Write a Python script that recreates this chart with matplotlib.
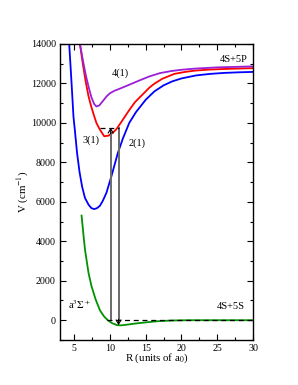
import numpy as np
import matplotlib
matplotlib.use('Agg')
import matplotlib.pyplot as plt
from matplotlib.ticker import MultipleLocator

plt.rcParams['font.family'] = ['Liberation Serif', 'DejaVu Serif']
plt.rcParams['mathtext.fontset'] = 'stix'

# potential curves (R in a0, V in cm^-1)
r_blue = [4.3, 4.6, 4.9, 5.1, 5.4, 5.75, 6.1, 6.5, 7.0, 7.4, 7.8, 8.2, 8.6, 9.0,
          9.5, 10.2, 11.1, 11.8, 12.7, 13.65, 15.0, 16.2, 17.5, 18.7, 20.0,
          22.0, 24.0, 26.0, 28.0, 30.0]
v_blue = [14000, 12200, 10300, 9600, 8470, 7500, 6780, 6200, 5855, 5680, 5630,
          5680, 5800, 6050, 6450, 7290, 8470, 9200, 10000, 10550, 11170, 11590,
          11900, 12100, 12250, 12400, 12480, 12530, 12560, 12580]

r_red = [5.8, 6.2, 6.6, 7.0, 7.4, 7.7, 8.1, 8.6, 9.2, 9.8, 10.4, 10.9, 11.6,
         12.3, 12.7, 13.5, 14.6, 15.5, 16.2, 17.3, 19.0, 20.5, 22.0, 24.0,
         26.0, 28.0, 30.0]
v_red = [14000, 13000, 12100, 11350, 10800, 10450, 10000, 9650, 9320, 9350,
         9500, 9680, 10050, 10430, 10650, 11050, 11450, 11780, 11980, 12230,
         12480, 12580, 12650, 12700, 12730, 12750, 12770]

r_purple = [5.8, 6.2, 6.6, 7.0, 7.4, 7.8, 8.1, 8.5, 9.0, 9.5, 10.0, 10.6, 11.5,
            12.7, 14.0, 15.5, 17.0, 18.5, 20.0, 22.0, 25.0, 30.0]
v_purple = [14000, 13200, 12450, 11840, 11300, 10950, 10830, 10880, 11100,
            11330, 11500, 11620, 11750, 11930, 12130, 12350, 12520, 12620,
            12690, 12750, 12810, 12860]

r_green = [6.03, 6.3, 6.5, 7.0, 7.4, 8.0, 8.6, 9.2, 9.7, 10.3, 11.0, 11.6,
           12.5, 13.5, 15.0, 16.7, 18.6, 21.0, 25.0, 30.0]
v_green = [5300, 4300, 3600, 2400, 1750, 1050, 500, 180, 0, -150, -250, -260,
           -220, -170, -110, -50, -15, 0, 0, 0]

# transitions
r_up, r_down = 10.1, 11.2
v_exc = 9750
v_dn_end = -250

fig = plt.figure(figsize=(2.98, 3.85), dpi=100)
ax = fig.add_axes([0.201, 0.117, 0.648, 0.769])

lw = 1.3
ax.plot(r_blue, v_blue, color='#0000ff', lw=lw)
ax.plot(r_red, v_red, color='#ff0000', lw=lw)
ax.plot(r_purple, v_purple, color='#9a1fd6', lw=lw)
ax.plot(r_green, v_green, color='#009200', lw=lw)

# dashed reference levels
ax.plot([9.6, 30], [0, 0], color='black', lw=0.9, ls=(0, (4, 3)), zorder=4)
ax.plot([8.6, 11.3], [v_exc, v_exc], color='black', lw=0.9, ls=(0, (4, 3)), zorder=4)

# vertical transitions
ax.plot([r_up, r_up], [0, v_exc - 250], color='#6a6a6a', lw=1.4, zorder=3)
ax.plot([r_down, r_down], [v_exc, v_dn_end + 250], color='#6a6a6a', lw=1.4, zorder=3)
ax.annotate('', xy=(r_up, v_exc), xytext=(r_up, v_exc - 300),
            arrowprops=dict(arrowstyle='->,head_width=0.18,head_length=0.3',
                            color='black', lw=0.8, shrinkA=0, shrinkB=0))
ax.annotate('', xy=(r_down, v_dn_end), xytext=(r_down, v_dn_end + 300),
            arrowprops=dict(arrowstyle='->,head_width=0.18,head_length=0.3',
                            color='black', lw=0.8, shrinkA=0, shrinkB=0))

fs = 7.5
ax.text(11.4, 12500, '4(1)', fontsize=fs, ha='center', va='center')
ax.text(7.3, 9100, '3(1)', fontsize=fs, ha='center', va='center')
ax.text(13.8, 8950, '2(1)', fontsize=fs, ha='center', va='center')
ax.text(29.3, 13190, '4S+5P', fontsize=fs, ha='right', va='center')
ax.text(28.8, 710, '4S+5S', fontsize=fs, ha='right', va='center')
ax.text(4.1, 800, r'a$^3\Sigma^+$', fontsize=fs, ha='left', va='center')

ax.set_xlim(3, 30)
ax.set_ylim(-1000, 14000)
ax.xaxis.set_major_locator(MultipleLocator(5))
ax.xaxis.set_minor_locator(MultipleLocator(2.5))
ax.yaxis.set_major_locator(MultipleLocator(2000))
ax.yaxis.set_minor_locator(MultipleLocator(1000))
ax.tick_params(which='both', direction='in', top=True, right=True,
               labelsize=7.2, width=0.8, pad=3)
ax.tick_params(which='major', length=4.5)
ax.tick_params(which='minor', length=2.3)
for s in ax.spines.values():
    s.set_linewidth(1.0)

ax.set_xlabel(r'R (units of a$_0$)', fontsize=7.8, labelpad=-1)
ax.set_ylabel(r'V (cm$^{-1}$)', fontsize=7.8, labelpad=0)

fig.savefig('out.png', dpi=100)
